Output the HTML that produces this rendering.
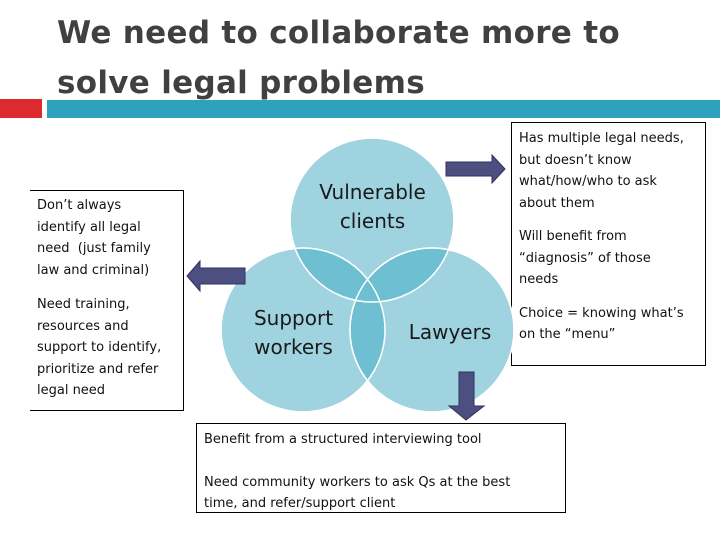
<!DOCTYPE html>
<html><head><style>
body{margin:0;width:720px;height:540px;background:#fff;position:relative;overflow:hidden;font-family:"DejaVu Sans","Liberation Sans",sans-serif;}
.t{position:absolute;left:57px;top:8px;font-size:31px;font-weight:bold;color:#404040;line-height:50px;font-family:"DejaVu Sans",sans-serif;letter-spacing:0.3px}
.box{position:absolute;border:1px solid #000;font-size:13px;line-height:21.5px;color:#111;padding:4px 10px 4px 7px;box-sizing:border-box}
.lbl{position:absolute;font-size:20px;color:#1a1a1a;text-align:center;line-height:29px}
</style></head><body>
<div class="t">We need to collaborate more to<br>solve legal problems</div>
<div style="position:absolute;left:0;top:99px;width:42px;height:19px;background:#dd2a2f"></div>
<div style="position:absolute;left:47px;top:100px;width:673px;height:18px;background:#2ea2bd"></div>
<div class="box" style="left:30px;top:190px;width:154px;height:221px;border-left:none;padding-left:7px;padding-right:14px">Don’t always identify all legal need&nbsp; (just family law and criminal)<div style="height:13px"></div>Need training, resources and support to identify, prioritize and refer legal need</div>
<div class="box" style="left:511px;top:122px;width:195px;height:244px;padding-top:5px;padding-right:12px">Has multiple legal needs, but doesn’t know what/how/who to ask about them<div style="height:12px"></div>Will benefit from “diagnosis” of those needs<div style="height:12px"></div>Choice = knowing what’s on the “menu”</div>
<div class="box" style="left:196px;top:423px;width:370px;height:90px;padding-top:5px;padding-right:30px">Benefit from a structured interviewing tool<div style="height:21px"></div>Need community workers to ask Qs at the best time, and refer/support client</div>
<svg width="720" height="540" style="position:absolute;left:0;top:0">
<defs>
<clipPath id="a"><circle cx="372" cy="220" r="82"/></clipPath>
<clipPath id="b"><circle cx="303" cy="330" r="82"/></clipPath>
</defs>
<circle cx="372" cy="220" r="82" fill="#9fd3e0" stroke="#fff" stroke-width="1.5"/>
<circle cx="303" cy="330" r="82" fill="#9fd3e0" stroke="#fff" stroke-width="1.5"/>
<circle cx="432" cy="330" r="82" fill="#9fd3e0" stroke="#fff" stroke-width="1.5"/>
<circle cx="303" cy="330" r="82" fill="#6fbfd3" clip-path="url(#a)"/>
<circle cx="432" cy="330" r="82" fill="#6fbfd3" clip-path="url(#a)"/>
<circle cx="432" cy="330" r="82" fill="#6fbfd3" clip-path="url(#b)"/>
<circle cx="372" cy="220" r="82" fill="none" stroke="#fff" stroke-width="1.5"/>
<circle cx="303" cy="330" r="82" fill="none" stroke="#fff" stroke-width="1.5"/>
<circle cx="432" cy="330" r="82" fill="none" stroke="#fff" stroke-width="1.5"/>
<polygon points="446,162 492,162 492,155 505,169 492,183 492,176 446,176" fill="#4d4f80" stroke="#2f3060"/>
<polygon points="245,268 200,268 200,261 187,276 200,291 200,284 245,284" fill="#4d4f80" stroke="#2f3060"/>
<polygon points="459,372 474,372 474,406 484,406 466,420 449,406 459,406" fill="#4d4f80" stroke="#2f3060"/>
</svg>
<div class="lbl" style="left:300px;top:178px;width:145px">Vulnerable<br>clients</div>
<div class="lbl" style="left:236px;top:304px;width:115px">Support<br>workers</div>
<div class="lbl" style="left:400px;top:318px;width:100px">Lawyers</div>
</body></html>
